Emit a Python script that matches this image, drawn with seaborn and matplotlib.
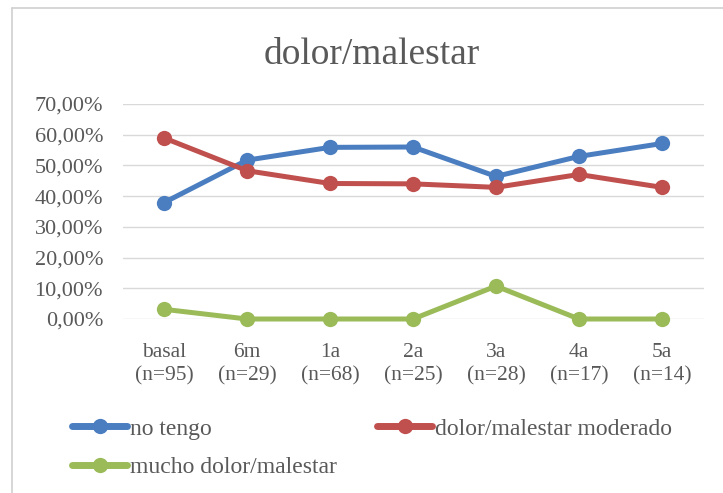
import matplotlib
matplotlib.use("Agg")
import matplotlib.pyplot as plt
from matplotlib.lines import Line2D
from matplotlib.ticker import FuncFormatter
import seaborn as sns
import pandas as pd

# Time points and sample sizes
periodos = ["basal", "6m", "1a", "2a", "3a", "4a", "5a"]
n_casos = [95, 29, 68, 25, 28, 17, 14]

# Percentage of patients in each pain/discomfort category
no_tengo = [0.3789, 0.5172, 0.5588, 0.56, 0.4643, 0.5294, 0.5714]
moderado = [0.5895, 0.4828, 0.4412, 0.44, 0.4286, 0.4706, 0.4286]
mucho = [0.0316, 0.0, 0.0, 0.0, 0.1071, 0.0, 0.0]

series = ["no tengo", "dolor/malestar moderado", "mucho dolor/malestar"]
colores = ["#4A7EC0", "#C0504D", "#9BBB59"]

rows = []
for nombre, valores in zip(series, [no_tengo, moderado, mucho]):
    for i, v in enumerate(valores):
        rows.append({"pos": i, "serie": nombre, "valor": v})
df = pd.DataFrame(rows)

sns.set_theme(style="white")
plt.rcParams["font.family"] = ["Liberation Serif", "DejaVu Serif"]
texto = "#595959"

fig = plt.figure(figsize=(7.23, 4.93), dpi=100)
ax = fig.add_axes([122.5 / 723, 1 - 319 / 493, 581 / 723, 215 / 493])

sns.lineplot(data=df, x="pos", y="valor", hue="serie", hue_order=series,
             palette=colores, marker="o", markersize=11, markeredgewidth=0,
             linewidth=3.6, sort=False, legend=False, ax=ax, zorder=3)
for ln in ax.lines:
    ln.set_clip_on(False)
    ln.set_solid_capstyle("round")
    ln.set_solid_joinstyle("round")

ax.set_xlim(-0.5, len(periodos) - 0.5)
ax.set_ylim(0, 0.70)
ax.set_yticks([i / 10 for i in range(8)])
ax.yaxis.set_major_formatter(FuncFormatter(lambda v, _: f"{v*100:.2f}%".replace(".", ",")))
ax.set_xticks(range(len(periodos)))
ax.set_xticklabels([f"{p}\n(n={n})" for p, n in zip(periodos, n_casos)],
                   linespacing=1.35)
ax.tick_params(axis="both", length=0, colors=texto)
ax.tick_params(axis="y", pad=14, labelsize=16)
ax.tick_params(axis="x", pad=17, labelsize=15.5)
ax.set_xlabel("")
ax.set_ylabel("")
ax.grid(axis="y", color="#D9D9D9", linewidth=1)
ax.set_axisbelow(True)
for s in ax.spines.values():
    s.set_visible(False)

fig.text(372 / 723, 1 - 55 / 493, "dolor/malestar", ha="center", va="center",
         fontsize=27, color=texto)

# Chart frame edges
fig.add_artist(Line2D([12 / 723, 1], [1 - 8 / 493, 1 - 8 / 493],
                      transform=fig.transFigure, color="#D0D0D0", linewidth=1.2))
fig.add_artist(Line2D([12 / 723, 12 / 723], [0, 1 - 8 / 493],
                      transform=fig.transFigure, color="#D0D0D0", linewidth=1.2))

# Legend filled row by row: column-major order for two columns
handles = [Line2D([], [], color=c, linewidth=5, marker="o", markersize=11,
                  markeredgewidth=0) for c in colores]
orden = [0, 2, 1]
fig.legend([handles[i] for i in orden], [series[i] for i in orden],
           loc="upper left", bbox_to_anchor=(72 / 723, 1 - 418 / 493),
           ncol=2, frameon=False, fontsize=17, handlelength=2.35, handletextpad=0.1,
           columnspacing=1.7, labelspacing=0.72, borderpad=0, borderaxespad=0,
           labelcolor=texto)

fig.savefig("out.png", dpi=100, facecolor="white")
